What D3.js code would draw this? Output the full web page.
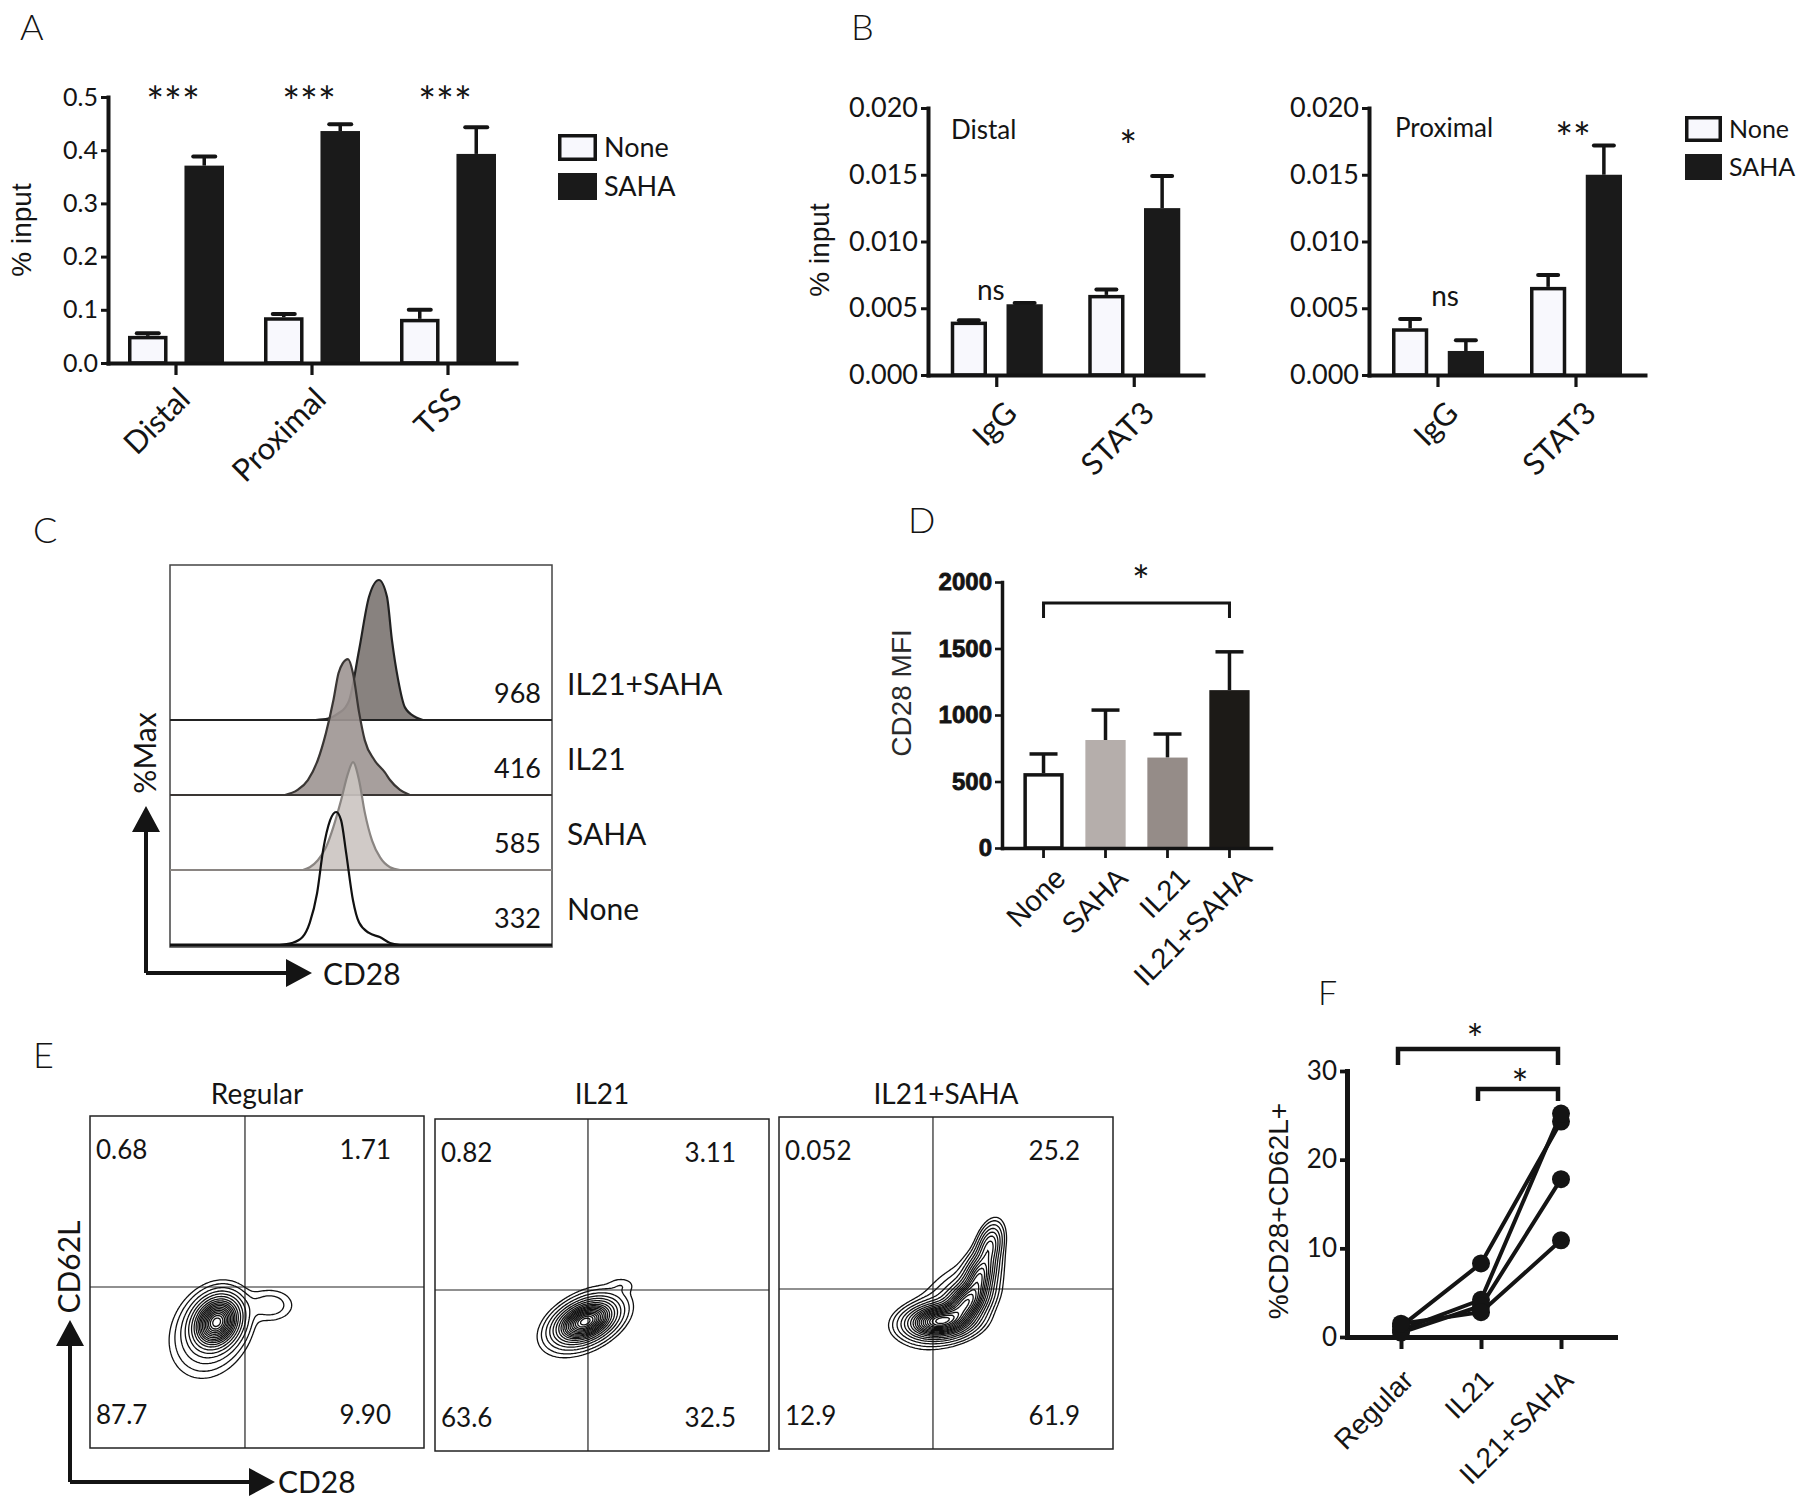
<!DOCTYPE html>
<html>
<head>
<meta charset="utf-8">
<script src="https://cdn.jsdelivr.net/npm/d3@7"></script>
<style>
  body { margin: 0; background: #fff; }
</style>
</head>
<body>
<svg id="fig" width="1800" height="1506"></svg>
<script>
// ---- A: ChIP at three sites ----
const aSites = ["Distal", "Proximal", "TSS"];
const aNone = [0.051, 0.086, 0.083];
const aNoneErr = [0.005, 0.006, 0.017];
const aSaha = [0.371, 0.436, 0.393];
const aSahaErr = [0.017, 0.013, 0.050];
const aSig = ["***", "***", "***"];
const aTicks = [0, 0.1, 0.2, 0.3, 0.4, 0.5];

// ---- B: IgG vs STAT3 ----
const bTargets = ["IgG", "STAT3"];
const bDistalNone = [0.0040, 0.0060];
const bDistalNoneErr = [0.0001, 0.0004];
const bDistalSaha = [0.0053, 0.0125];
const bDistalSahaErr = [0.0001, 0.0024];
const bProxNone = [0.0035, 0.0066];
const bProxNoneErr = [0.0007, 0.0009];
const bProxSaha = [0.0018, 0.0150];
const bProxSahaErr = [0.0008, 0.0022];
const bDistalSig = ["ns", "*"];
const bProxSig = ["ns", "**"];
const bTicks = [0, 0.005, 0.010, 0.015, 0.020];

// ---- C: CD28 histograms, [CD28 channel, %Max] ----
const cLanes = ["None", "SAHA", "IL21", "IL21+SAHA"];
const cMfi = [332, 585, 416, 968];
const cNoneHist = [[28.7,0],[31.9,1.4],[34.7,5.7],[36.6,16],[38.5,37],[40.1,68],[41.9,89],[43.5,95],[44.8,89],[46.1,66],[47.9,32],[49.5,16],[52.1,8.6],[54.9,5.7],[57.6,1.4],[60.2,0]];
const cSahaHist = [[34.8,0],[36.6,2],[38.7,7],[40.8,16],[42.8,31],[44.8,50],[46.6,69],[47.9,77],[49.5,64],[51.0,41],[52.9,21],[55.0,9],[57.6,2],[60.2,0]];
const cIl21Hist = [[30.1,0],[33.4,3.6],[36.1,10.7],[38.7,25],[40.8,44],[42.8,68],[44.1,87],[45.2,94],[46.6,97],[47.9,87],[49.5,59],[51.0,39],[53.5,25],[56.3,16],[57.6,10.7],[60.2,3.6],[62.8,0]];
const cComboHist = [[38.1,0],[41.4,1],[44.2,5],[45.8,8.6],[46.9,14],[49.5,50],[52.1,88],[54.7,100],[56.8,88],[58.1,57],[59.7,29],[61.5,9],[64.3,2],[66.2,0]];
const cHists = [cNoneHist, cSahaHist, cIl21Hist, cComboHist];

// ---- D: CD28 MFI ----
const dGroups = ["None", "SAHA", "IL21", "IL21+SAHA"];
const dMfi = [563, 812, 680, 1187];
const dErr = [144, 225, 177, 288];
const dTicks = [0, 500, 1000, 1500, 2000];

// ---- E: CD28 x CD62L contour plots ----
const eSamples = ["Regular", "IL21", "IL21+SAHA"];
const eQuads = [["0.68", "1.71", "87.7", "9.90"], ["0.82", "3.11", "63.6", "32.5"], ["0.052", "25.2", "12.9", "61.9"]];
const eGates = [[46.4, 48.5], [45.8, 48.5], [46.1, 48.2]];
// populations: [cx, cy, sdx, sdy, corr, weight] on 0-100 display scale
const ePops = [
  [[38, 38, 3.6, 3.9, 0.2, 1], [36, 35, 5.6, 6.4, 0.2, 0.12], [54, 43, 4.2, 2.9, 0, 0.035]],
  [[45, 39, 4.4, 3.1, 0.4, 1], [45, 39, 6, 4.8, 0.45, 0.12], [56, 50, 2.5, 1.5, 0, 0.015]],
  [[48, 38.5, 5, 2.6, 0.15, 1], [56, 44, 3.5, 3.5, 0.4, 0.7], [60, 52, 2.6, 4, 0.4, 0.45], [63, 61, 2, 3.5, 0.35, 0.25], [52, 44, 7, 7, 0.55, 0.05]]
];

// ---- F: %CD28+CD62L+ per donor ----
const fGroups = ["Regular", "IL21", "IL21+SAHA"];
const fDonors = [[1.2, 8.3, 24.3], [0.8, 4.2, 25.2], [0.5, 3.5, 17.8], [1.5, 2.8, 10.9]];
const fTicks = [0, 10, 20, 30];

const svg = d3.select("#fig");
const MY = "Lato, 'Open Sans', sans-serif";
const AR = "'Liberation Sans', Arial, sans-serif";
const INK = "#141414";

svg.append("rect").attr("width", 1800).attr("height", 1506).attr("fill", "#fff");

function txt(x, y, s, size, o = {}) {
  const t = svg.append("text").attr("x", x).attr("y", y).attr("font-size", size)
    .style("font-family", o.font || MY).attr("fill", o.fill || INK)
    .attr("text-anchor", o.anchor || "start").text(s);
  if (o.weight) t.attr("font-weight", o.weight);
  if (o.rotate) t.attr("transform", `rotate(${o.rotate},${x},${y})`);
  return t;
}

function rotLabels(labels, xs, y0, dx, dy, size, font) {
  labels.forEach((s, i) => {
    svg.append("text")
      .attr("transform", `translate(${xs[i] + dx},${y0 + dy}) rotate(-45)`)
      .attr("text-anchor", "end").attr("font-size", size)
      .style("font-family", font).attr("fill", INK).text(s);
  });
}

function yAxis(y, x, ticks, fmt, size, font, weight, sw) {
  const ax = svg.append("g").attr("transform", `translate(${x},0)`)
    .call(d3.axisLeft(y).tickValues(ticks).tickFormat(fmt).tickSize(7).tickSizeOuter(0).tickPadding(3));
  ax.select(".domain").attr("stroke", INK).attr("stroke-width", sw).attr("stroke-linecap", "square");
  ax.selectAll(".tick line").attr("stroke", INK).attr("stroke-width", sw * 0.75);
  ax.selectAll(".tick text").attr("font-size", size).style("font-family", font)
    .attr("font-weight", weight).attr("fill", INK);
  return ax;
}

function xAxis(x, yPos, sw, tick) {
  const ax = svg.append("g").attr("transform", `translate(0,${yPos})`)
    .call(d3.axisBottom(x).tickSize(tick).tickSizeOuter(0).tickFormat(""));
  ax.select(".domain").attr("stroke", INK).attr("stroke-width", sw).attr("stroke-linecap", "square");
  ax.selectAll(".tick line").attr("stroke", INK).attr("stroke-width", sw * 0.8);
  return ax;
}

// grouped None/SAHA bars with upward error bars
function barPanel(cfg) {
  const y = d3.scaleLinear().domain([0, cfg.ymax]).range([cfg.y0, cfg.y1]);
  const x = d3.scaleBand().domain(cfg.cats).range([cfg.x0, cfg.x1]);
  const xs = d3.scaleBand().domain(["None", "SAHA"]).range([-cfg.half, cfg.half]).paddingInner(cfg.gap);
  const mid = c => x(c) + x.bandwidth() / 2;
  const g = svg.append("g");
  cfg.series.forEach(s => {
    const rows = cfg.cats.map((c, i) => ({ c, v: s.vals[i], e: s.errs[i] }));
    const cx = d => mid(d.c) + xs(s.key) + xs.bandwidth() / 2;
    g.selectAll(null).data(rows).join("line")
      .attr("x1", cx).attr("x2", cx).attr("y1", d => y(d.v)).attr("y2", d => y(d.v + d.e))
      .attr("stroke", INK).attr("stroke-width", 3.5);
    g.selectAll(null).data(rows).join("line")
      .attr("x1", d => cx(d) - cfg.cap / 2).attr("x2", d => cx(d) + cfg.cap / 2)
      .attr("y1", d => y(d.v + d.e)).attr("y2", d => y(d.v + d.e))
      .attr("stroke", INK).attr("stroke-width", 4).attr("stroke-linecap", "round");
    const sw = s.key === "None" ? 3.5 : 0;
    const bw = xs.bandwidth();
    g.selectAll(null).data(rows).join("rect")
      .attr("x", d => cx(d) - bw / 2 + sw / 2).attr("y", d => y(d.v) + sw / 2)
      .attr("width", bw - sw).attr("height", d => y(0) - y(d.v) - sw / 2)
      .attr("fill", s.fill).attr("stroke", sw ? INK : "none").attr("stroke-width", sw);
  });
  yAxis(y, cfg.x0, cfg.ticks, cfg.fmt, cfg.tickSize, MY, 400, 4);
  xAxis(x, cfg.y0, 4, 12);
  return { x, y, mid };
}

function legend(x, y1, y2, w, h, size) {
  svg.append("rect").attr("x", x + 1.75).attr("y", y1 + 1.75).attr("width", w - 3.5).attr("height", h - 3.5)
    .attr("fill", "#f8f8fd").attr("stroke", INK).attr("stroke-width", 3.5);
  svg.append("rect").attr("x", x).attr("y", y2).attr("width", w).attr("height", h).attr("fill", "#1a1a1a");
  txt(x + w + 7, y1 + h / 2 + size * 0.36, "None", size);
  txt(x + w + 7, y2 + h / 2 + size * 0.36, "SAHA", size);
}

// ================= Panel A =================
txt(20, 40, "A", 36, { weight: 300 });
const pA = barPanel({
  cats: aSites, x0: 108, x1: 516, y0: 363, y1: 97, ymax: 0.5, half: 48, gap: 0.3, cap: 22,
  ticks: aTicks, fmt: d3.format(".1f"), tickSize: 25,
  series: [
    { key: "None", vals: aNone, errs: aNoneErr, fill: "#f8f8fd" },
    { key: "SAHA", vals: aSaha, errs: aSahaErr, fill: "#1a1a1a" }
  ]
});
aSites.forEach((c, i) => txt(pA.mid(c) - 3, 117, aSig[i], 42, { anchor: "middle" }));
rotLabels(aSites, aSites.map(pA.mid), 363, 16, 38, 31, MY);
txt(31, 230, "% input", 28, { font: AR, anchor: "middle", rotate: -90 });
legend(558, 134, 173, 39, 27, 27);

// ================= Panel B =================
txt(851, 40, "B", 36, { weight: 300 });
const pB1 = barPanel({
  cats: bTargets, x0: 928, x1: 1203, y0: 375, y1: 108, ymax: 0.02, half: 46, gap: 0.35, cap: 20,
  ticks: bTicks, fmt: d3.format(".3f"), tickSize: 27,
  series: [
    { key: "None", vals: bDistalNone, errs: bDistalNoneErr, fill: "#f8f8fd" },
    { key: "SAHA", vals: bDistalSaha, errs: bDistalSahaErr, fill: "#1a1a1a" }
  ]
});
const pB2 = barPanel({
  cats: bTargets, x0: 1369, x1: 1645, y0: 375, y1: 108, ymax: 0.02, half: 46, gap: 0.35, cap: 20,
  ticks: bTicks, fmt: d3.format(".3f"), tickSize: 27,
  series: [
    { key: "None", vals: bProxNone, errs: bProxNoneErr, fill: "#f8f8fd" },
    { key: "SAHA", vals: bProxSaha, errs: bProxSahaErr, fill: "#1a1a1a" }
  ]
});
txt(951, 139, "Distal", 26);
txt(1395, 137, "Proximal", 26);
txt(pB1.mid("IgG") - 6, 300, bDistalSig[0], 28, { anchor: "middle" });
txt(pB1.mid("STAT3") - 6, 161, bDistalSig[1], 42, { anchor: "middle" });
txt(pB2.mid("IgG") + 7, 306, bProxSig[0], 28, { anchor: "middle" });
txt(pB2.mid("STAT3") - 3, 153, bProxSig[1], 42, { anchor: "middle" });
rotLabels(bTargets, bTargets.map(pB1.mid), 375, 22, 40, 31, MY);
rotLabels(bTargets, bTargets.map(pB2.mid), 375, 22, 40, 31, MY);
txt(829, 250, "% input", 28, { font: AR, anchor: "middle", rotate: -90 });
legend(1685, 116, 154, 37, 26, 25);

// ================= Panel C =================
txt(33, 543, "C", 36, { weight: 300 });
const cBox = { x0: 170, x1: 552, y0: 565, y1: 947 };
const cx = d3.scaleLinear().domain([0, 100]).range([cBox.x0, cBox.x1]);
const cLane = d3.scalePoint().domain(cLanes).range([945, 720]);
const cH = d3.scaleLinear().domain([0, 100]).range([0, 140]);
const cStyle = {
  "None": { fill: "none", stroke: "#111", base: "#111", bw: 3 },
  "SAHA": { fill: "#cbc4c1", stroke: "#8a8582", base: "#8a8582", bw: 2 },
  "IL21": { fill: "#9d9592", stroke: "#3a3634", base: "#3a3634", bw: 2 },
  "IL21+SAHA": { fill: "#7b7471", stroke: "#222", base: "#222", bw: 2 }
};
svg.append("rect").attr("x", cBox.x0).attr("y", cBox.y0).attr("width", cBox.x1 - cBox.x0)
  .attr("height", cBox.y1 - cBox.y0).attr("fill", "none").attr("stroke", "#444").attr("stroke-width", 1.5);
// draw top lane first so lower ones overlap it
cLanes.slice().reverse().forEach(lane => {
  const i = cLanes.indexOf(lane);
  const base = cLane(lane);
  const st = cStyle[lane];
  const area = d3.area().x(d => cx(d[0])).y0(base).y1(d => base - cH(d[1])).curve(d3.curveMonotoneX);
  svg.append("path").attr("d", area(cHists[i])).attr("fill", st.fill)
    .attr("fill-opacity", st.fill === "none" ? 0 : 0.9).attr("stroke", "none");
  const line = d3.line().x(d => cx(d[0])).y(d => base - cH(d[1])).curve(d3.curveMonotoneX);
  svg.append("path").attr("d", line(cHists[i])).attr("fill", "none").attr("stroke", st.stroke).attr("stroke-width", 2.2);
  svg.append("line").attr("x1", cBox.x0).attr("x2", cBox.x1).attr("y1", base).attr("y2", base)
    .attr("stroke", st.base).attr("stroke-width", st.bw);
  txt(541, base - 17, cMfi[i], 27, { anchor: "end" });
  txt(567, base - 25, lane, 30);
});
// axis arrows
svg.append("path").attr("d", "M146,973V826M290,973H146").attr("fill", "none").attr("stroke", INK).attr("stroke-width", 4);
svg.append("path").attr("d", "M146,806L132,832L160,832Z M312,973L286,959L286,987Z").attr("fill", INK);
txt(146, 753, "%Max", 30, { anchor: "middle", rotate: -90 }).attr("dy", 10);
txt(323, 985, "CD28", 30);

// ================= Panel D =================
txt(908, 533, "D", 36, { weight: 300 });
const dy = d3.scaleLinear().domain([0, 2000]).range([848, 582]);
const dx = d3.scaleBand().domain(dGroups).range([1002, 1271]).paddingInner(0.35).paddingOuter(0.345);
const dColors = ["#ffffff", "#b5aeab", "#958c88", "#1c1a17"];
const dMid = c => dx(c) + dx.bandwidth() / 2;
const dRows = dGroups.map((g, i) => ({ g, v: dMfi[i], e: dErr[i], fill: dColors[i] }));
svg.selectAll(null).data(dRows).join("line")
  .attr("x1", d => dMid(d.g)).attr("x2", d => dMid(d.g)).attr("y1", d => dy(d.v)).attr("y2", d => dy(d.v + d.e))
  .attr("stroke", INK).attr("stroke-width", 3.5);
svg.selectAll(null).data(dRows).join("line")
  .attr("x1", d => dMid(d.g) - 14).attr("x2", d => dMid(d.g) + 14).attr("y1", d => dy(d.v + d.e)).attr("y2", d => dy(d.v + d.e))
  .attr("stroke", INK).attr("stroke-width", 3.5);
svg.selectAll(null).data(dRows).join("rect")
  .attr("x", d => dx(d.g) + (d.g === "None" ? 1.75 : 0)).attr("y", d => dy(d.v) + (d.g === "None" ? 1.75 : 0))
  .attr("width", d => dx.bandwidth() - (d.g === "None" ? 3.5 : 0))
  .attr("height", d => dy(0) - dy(d.v) - (d.g === "None" ? 1.75 : 0))
  .attr("fill", d => d.fill).attr("stroke", d => d.g === "None" ? INK : "none").attr("stroke-width", 3.5);
yAxis(dy, 1002, dTicks, d3.format("d"), 24, AR, 700, 3.5)
  .selectAll(".tick text").attr("stroke", INK).attr("stroke-width", 0.8);
xAxis(dx, 848, 3.5, 10);
svg.append("path")
  .attr("d", `M${dMid("None")},618V603H${dMid("IL21+SAHA")}V618`)
  .attr("fill", "none").attr("stroke", INK).attr("stroke-width", 3);
txt(1141, 596, "*", 42, { anchor: "middle" });
rotLabels(dGroups, dGroups.map(dMid), 848, 24, 32, 29, AR);
txt(901, 693, "CD28 MFI", 28, { font: AR, anchor: "middle", rotate: -90, fill: "#2a2a2a" }).attr("dy", 10);

// ================= Panel E =================
txt(33, 1068, "E", 36, { weight: 300 });
const eBoxes = [[90, 1116], [435, 1119], [779, 1117]];
const eW = 334, eHt = 332, N = 220;
const eLevels = [0.95, 0.88, 0.81, 0.74, 0.67, 0.6, 0.53, 0.46, 0.4, 0.34, 0.28, 0.22, 0.16, 0.11, 0.07, 0.04, 0.02, 0.01];
eSamples.forEach((name, k) => {
  const [bx, by] = eBoxes[k];
  const sx = d3.scaleLinear().domain([0, 100]).range([bx, bx + eW]);
  const sy = d3.scaleLinear().domain([0, 100]).range([by + eHt, by]);
  svg.append("rect").attr("x", bx).attr("y", by).attr("width", eW).attr("height", eHt)
    .attr("fill", "none").attr("stroke", "#222").attr("stroke-width", 1.5);
  svg.append("line").attr("x1", sx(eGates[k][0])).attr("x2", sx(eGates[k][0])).attr("y1", by).attr("y2", by + eHt)
    .attr("stroke", "#222").attr("stroke-width", 1.2);
  svg.append("line").attr("x1", bx).attr("x2", bx + eW).attr("y1", sy(eGates[k][1])).attr("y2", sy(eGates[k][1]))
    .attr("stroke", "#222").attr("stroke-width", 1.2);
  // density grid from the population parameters
  const vals = new Float64Array(N * N);
  for (let j = 0; j < N; j++) for (let i = 0; i < N; i++) {
    const px = (i + 0.5) * 100 / N, py = (j + 0.5) * 100 / N;
    let s = 0;
    ePops[k].forEach(([mx, my, sdx, sdy, r, w]) => {
      const u = (px - mx) / sdx, v = (py - my) / sdy;
      s += w * Math.exp(-(u * u - 2 * r * u * v + v * v) / (2 * (1 - r * r)));
    });
    vals[j * N + i] = s;
  }
  const mx = d3.max(vals);
  const contours = d3.contours().size([N, N]).thresholds(eLevels.map(l => l * mx))(vals);
  const proj = d3.geoTransform({ point(x, y) { this.stream.point(sx(x * 100 / N), sy(y * 100 / N)); } });
  svg.append("g").selectAll("path").data(contours).join("path")
    .attr("d", d3.geoPath(proj)).attr("fill", "none").attr("stroke", "#111").attr("stroke-width", 1.3);
  txt(bx + eW / 2, 1104, name, 28, { anchor: "middle" });
  txt(bx + 6, by + 43, eQuads[k][0], 26);
  txt(bx + eW - 33, by + 43, eQuads[k][1], 26, { anchor: "end" });
  txt(bx + 6, by + eHt - 24, eQuads[k][2], 26);
  txt(bx + eW - 33, by + eHt - 24, eQuads[k][3], 26, { anchor: "end" });
});
svg.append("path").attr("d", "M70,1482V1340M70,1482H255").attr("fill", "none").attr("stroke", INK).attr("stroke-width", 4);
svg.append("path").attr("d", "M70,1320L56,1346L84,1346Z M275,1482L249,1468L249,1496Z").attr("fill", INK);
txt(70, 1267, "CD62L", 30, { anchor: "middle", rotate: -90 }).attr("dy", 10);
txt(278, 1493, "CD28", 30);

// ================= Panel F =================
txt(1318, 1005, "F", 34, { weight: 300 });
const fy = d3.scaleLinear().domain([0, 30]).range([1337, 1071]);
const fx = d3.scalePoint().domain(fGroups).range([1347, 1615]).padding(0.675);
const fLine = d3.line().x((d, i) => fx(fGroups[i])).y(d => fy(d));
svg.append("g").selectAll("path").data(fDonors).join("path")
  .attr("d", fLine).attr("fill", "none").attr("stroke", INK).attr("stroke-width", 4);
svg.append("g").selectAll("circle")
  .data(fDonors.flatMap(r => r.map((v, i) => ({ g: fGroups[i], v }))))
  .join("circle").attr("cx", d => fx(d.g)).attr("cy", d => fy(d.v)).attr("r", 9).attr("fill", INK);
yAxis(fy, 1347, fTicks, d3.format("d"), 26, MY, 400, 5);
xAxis(fx, 1337, 5, 12);
svg.append("path")
  .attr("d", `M${fx("Regular") - 3},1065V1049H${fx("IL21+SAHA") - 3}V1065 M${fx("IL21") - 3},1101V1089H${fx("IL21+SAHA") - 3}V1101`)
  .attr("fill", "none").attr("stroke", INK).attr("stroke-width", 4.5);
txt(1475, 1054, "*", 40, { anchor: "middle" });
txt(1520, 1099, "*", 40, { anchor: "middle" });
rotLabels(fGroups, fGroups.map(g => fx(g)), 1337, 14, 45, 28, AR);
txt(1278, 1211, "%CD28+CD62L+", 28, { font: AR, anchor: "middle", rotate: -90 }).attr("dy", 10);
</script>
</body>
</html>
